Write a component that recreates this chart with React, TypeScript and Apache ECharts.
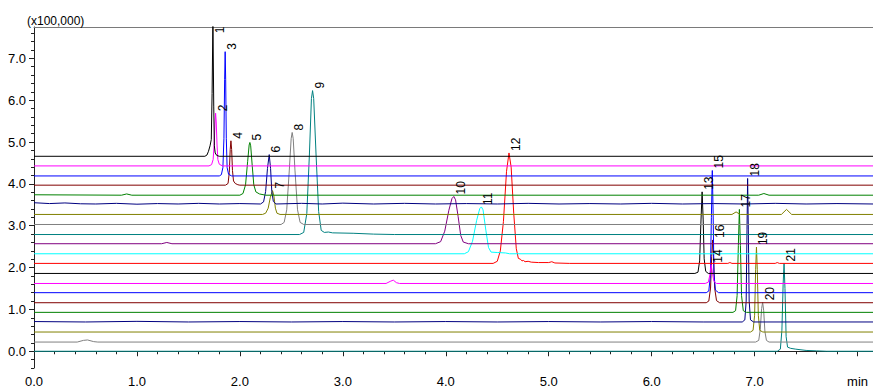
import React, { useEffect, useRef } from 'react';
import * as echarts from 'echarts';

const FONT = '"Liberation Sans", Arial, sans-serif';

// Axis ticks / labels
const xTickValues = [0, 1, 2, 3, 4, 5, 6, 7, 8];
const xTickLabels = ['0.0', '1.0', '2.0', '3.0', '4.0', '5.0', '6.0', '7.0', 'min'];
const xMinorTicks = [0, 0.2, 0.4, 0.6, 0.8, 1, 1.2, 1.4, 1.6, 1.8, 2, 2.2, 2.4, 2.6, 2.8, 3, 3.2, 3.4, 3.6, 3.8, 4, 4.2, 4.4, 4.6, 4.8, 5, 5.2, 5.4, 5.6, 5.8, 6, 6.2, 6.4, 6.6, 6.8, 7, 7.2, 7.4, 7.6, 7.8, 8];
const yTickValues = [0, 1, 2, 3, 4, 5, 6, 7];
const yTickLabels = ['0.0', '1.0', '2.0', '3.0', '4.0', '5.0', '6.0', '7.0'];
const yMinorTicks = [-0.4, -0.2, 0, 0.2, 0.4, 0.6, 0.8, 1, 1.2, 1.4, 1.6, 1.8, 2, 2.2, 2.4, 2.6, 2.8, 3, 3.2, 3.4, 3.6, 3.8, 4, 4.2, 4.4, 4.6, 4.8, 5, 5.2, 5.4, 5.6, 5.8, 6, 6.2, 6.4, 6.6, 6.8, 7, 7.2, 7.4, 7.6];
const unitLabel = '(x100,000)';

// Trace colours and baseline offsets (x100,000)
const colors = ['#000000', '#ff00ff', '#0000ff', '#800000', '#008000', '#000080', '#808000', '#808080', '#008080', '#800080', '#00ffff', '#ff0000', '#000000', '#ff00ff', '#0000ff', '#800000', '#008000', '#000080', '#808000', '#808080', '#008080'];
const baselines = [4.66, 4.43, 4.19, 3.97, 3.73, 3.52, 3.27, 3.03, 2.79, 2.57, 2.33, 2.10, 1.86, 1.62, 1.40, 1.16, 0.93, 0.70, 0.46, 0.22, 0.0];

// Signals [time (min), intensity above baseline (x100,000)]
const t1 = [[0, 0], [1.66, 0], [1.68, 0.03], [1.695, 0.12], [1.71, 0.25], [1.722, 0.4], [1.73, 1.5], [1.738, 3.3], [1.746, 1.2], [1.752, 0.25], [1.76, 0.08], [1.775, 0.02], [1.8, 0], [8.15, 0]];
const t2 = [[0, 0], [1.7, 0], [1.725, 0.03], [1.74, 0.15], [1.75, 0.5], [1.758, 1.0], [1.764, 1.26], [1.77, 1.05], [1.778, 0.5], [1.786, 0.15], [1.8, 0.04], [1.83, 0], [8.15, 0]];
const t3 = [[0, 0], [1.8, 0], [1.82, 0.03], [1.835, 0.2], [1.845, 0.9], [1.852, 2.3], [1.857, 2.97], [1.862, 2.3], [1.868, 0.9], [1.876, 0.2], [1.89, 0.04], [1.92, 0], [8.15, 0]];
const t4 = [[0, 0], [1.86, 0], [1.885, 0.04], [1.897, 0.3], [1.906, 0.85], [1.913, 1.06], [1.92, 0.85], [1.928, 0.35], [1.938, 0.1], [1.955, 0.04], [1.98, 0.01], [2.0, 0], [8.15, 0]];
const t5 = [[0, 0.01], [0.85, 0], [0.9, 0.03], [0.95, 0], [2.0, 0], [2.03, 0.04], [2.055, 0.25], [2.075, 0.8], [2.09, 1.2], [2.097, 1.26], [2.105, 1.18], [2.12, 0.7], [2.135, 0.25], [2.155, 0.08], [2.19, 0.03], [2.25, 0], [7.04, 0], [7.09, 0.04], [7.14, 0], [8.15, 0]];
const t6 = [[0, 0.03], [0.15, 0.01], [0.3, 0.025], [0.45, 0.005], [0.6, 0.0], [0.8, 0.015], [1.0, -0.005], [1.2, 0.01], [1.4, 0.0], [1.6, 0.015], [1.8, 0.0], [2.0, 0.01], [2.2, 0], [2.23, 0.05], [2.25, 0.3], [2.268, 0.85], [2.285, 1.18], [2.298, 0.85], [2.31, 0.3], [2.325, 0.06], [2.35, 0], [2.6, 0.015], [2.8, 0.0], [3.0, 0.02], [3.3, 0.0], [3.6, 0.015], [3.9, 0.0], [4.2, 0.01], [4.5, 0.0], [4.8, 0.015], [5.1, 0.0], [5.4, 0.01], [5.7, 0.0], [6.0, 0.015], [6.3, 0.0], [6.6, 0.01], [6.9, 0.0], [7.2, 0.015], [7.5, 0.0], [7.8, 0.01], [8.15, 0]];
const t7 = [[0, 0], [2.22, 0], [2.25, 0.03], [2.275, 0.15], [2.295, 0.4], [2.317, 0.57], [2.33, 0.45], [2.345, 0.15], [2.36, 0.03], [2.39, 0], [6.78, 0], [6.82, 0.06], [6.86, 0], [7.26, 0], [7.31, 0.12], [7.36, 0], [8.15, 0]];
const t8 = [[0, 0], [2.4, 0], [2.43, 0.05], [2.455, 0.35], [2.48, 1.3], [2.498, 2.05], [2.508, 2.2], [2.518, 2.05], [2.535, 1.3], [2.56, 0.35], [2.585, 0.05], [2.62, 0], [8.15, 0]];
const t9 = [[0, 0], [2.58, 0], [2.62, 0.05], [2.65, 0.5], [2.675, 1.9], [2.695, 3.25], [2.706, 3.44], [2.717, 3.25], [2.74, 1.9], [2.765, 0.55], [2.79, 0.1], [2.82, 0.05], [2.86, 0.06], [2.9, 0.04], [3.1, 0.03], [3.3, 0.01], [3.5, 0], [8.15, 0]];
const t10 = [[0, 0], [1.24, 0], [1.29, 0.03], [1.34, 0], [3.9, 0], [3.95, 0.05], [3.99, 0.3], [4.03, 0.8], [4.06, 1.08], [4.078, 1.13], [4.095, 1.05], [4.12, 0.65], [4.145, 0.2], [4.17, 0.04], [4.22, 0], [8.15, 0]];
const t11 = [[0, 0], [4.18, 0], [4.22, 0.05], [4.26, 0.3], [4.3, 0.8], [4.33, 1.08], [4.346, 1.12], [4.362, 1.05], [4.39, 0.55], [4.415, 0.15], [4.44, 0.04], [4.5, 0.03], [4.58, 0.02], [4.62, 0], [8.15, 0]];
const t12 = [[0, 0], [4.46, 0], [4.5, 0.05], [4.53, 0.3], [4.56, 1.0], [4.59, 2.2], [4.614, 2.64], [4.635, 2.3], [4.66, 1.2], [4.685, 0.35], [4.705, 0.12], [4.725, 0.1], [4.74, 0.06], [4.755, 0.07], [4.77, 0.04], [4.8, 0.05], [4.83, 0.03], [4.9, 0.02], [5.0, 0.02], [5.03, 0.04], [5.06, 0.01], [5.2, 0], [6.74, 0], [6.76, 0.02], [6.78, 0], [7.2, 0], [7.22, 0.02], [7.24, 0], [8.15, 0]];
const t13 = [[0, 0], [6.42, 0], [6.45, 0.03], [6.466, 0.3], [6.478, 1.2], [6.49, 1.95], [6.5, 1.3], [6.51, 0.35], [6.525, 0.05], [6.55, 0], [8.15, 0]];
const t14 = [[0, 0], [3.42, 0], [3.46, 0.05], [3.49, 0.08], [3.52, 0.02], [3.55, 0], [6.52, 0], [6.55, 0.03], [6.565, 0.2], [6.578, 0.45], [6.59, 0.25], [6.605, 0.05], [6.63, 0], [8.15, 0]];
const t15 = [[0, 0], [6.53, 0], [6.555, 0.04], [6.57, 0.4], [6.58, 1.8], [6.589, 2.92], [6.597, 1.9], [6.605, 0.45], [6.62, 0.06], [6.65, 0], [8.15, 0]];
const t16 = [[0, 0], [6.53, 0], [6.555, 0.04], [6.572, 0.35], [6.583, 1.1], [6.592, 1.5], [6.601, 1.1], [6.612, 0.35], [6.63, 0.05], [6.66, 0], [8.15, 0]];
const t17 = [[0, 0], [6.79, 0], [6.815, 0.04], [6.83, 0.4], [6.842, 1.6], [6.852, 2.46], [6.862, 1.6], [6.873, 0.4], [6.89, 0.04], [6.92, 0], [8.15, 0]];
const t18 = [[0, 0.01], [0.5, 0.0], [1.0, 0.015], [1.5, 0.0], [2.0, 0.01], [2.5, 0.0], [3.0, 0.01], [3.5, 0.0], [4.0, 0.01], [4.5, 0.0], [5.0, 0.01], [5.5, 0.0], [6.0, 0.01], [6.5, 0.0], [6.88, 0], [6.905, 0.05], [6.918, 0.5], [6.926, 2.2], [6.932, 3.43], [6.939, 2.2], [6.947, 0.5], [6.96, 0.05], [6.99, 0], [8.15, 0]];
const t19 = [[0, 0], [6.96, 0], [6.985, 0.04], [7.0, 0.4], [7.01, 1.5], [7.018, 2.03], [7.026, 1.5], [7.036, 0.4], [7.05, 0.04], [7.08, 0], [8.15, 0]];
const t20 = [[0, 0], [0.42, 0], [0.48, 0.04], [0.52, 0.05], [0.58, 0.01], [0.62, 0], [7.01, 0], [7.04, 0.04], [7.055, 0.3], [7.068, 0.8], [7.078, 0.95], [7.088, 0.75], [7.1, 0.25], [7.115, 0.04], [7.14, 0], [8.15, 0]];
const t21 = [[0, 0], [7.22, 0], [7.25, 0.05], [7.265, 0.5], [7.277, 1.6], [7.286, 2.1], [7.295, 1.5], [7.306, 0.35], [7.32, 0.1], [7.35, 0.07], [7.4, 0.05], [7.5, 0.02], [7.6, 0.01], [7.7, 0], [8.15, 0]];
const traces = [t1, t2, t3, t4, t5, t6, t7, t8, t9, t10, t11, t12, t13, t14, t15, t16, t17, t18, t19, t20, t21];

// Peak labels and their anchor points (time, absolute value at the peak top)
const peakLabels = ['1', '2', '3', '4', '5', '6', '7', '8', '9', '10', '11', '12', '13', '14', '15', '16', '17', '18', '19', '20', '21'];
const peakAnchors = [[1.738, 7.55], [1.764, 5.69], [1.857, 7.16], [1.913, 5.03], [2.097, 4.99], [2.285, 4.70], [2.317, 3.84], [2.508, 5.23], [2.706, 6.23], [4.078, 3.70], [4.346, 3.45], [4.614, 4.74], [6.49, 3.81], [6.578, 2.07], [6.589, 4.32], [6.592, 2.66], [6.852, 3.39], [6.932, 4.13], [7.018, 2.49], [7.078, 1.17], [7.286, 2.10]];

const X_MAX = 8.15;
const Y_MIN = -0.4;
const Y_MAX = 7.75;

export default function App() {
  const ref = useRef<HTMLDivElement>(null);
  useEffect(() => {
    if (!ref.current) return;
    const chart = echarts.init(ref.current, undefined, { renderer: 'svg' });
    const axisColor = '#222222';
    const series = traces.map((tr, i) => ({
      type: 'line',
      name: peakLabels[i],
      data: tr.map(([t, v]) => [t, v + baselines[i]]),
      showSymbol: false,
      symbol: 'none',
      silent: true,
      z: 40 - i,
      lineStyle: { color: colors[i], width: 1 },
      itemStyle: { color: colors[i] },
    }));
    chart.setOption({
      animation: false,
      backgroundColor: '#ffffff',
      grid: { left: 34, right: 0, top: 27, bottom: 21, containLabel: false },
      xAxis: [
        {
          type: 'value', min: 0, max: X_MAX, position: 'bottom',
          axisLine: { show: true, lineStyle: { color: axisColor, width: 1 } },
          axisTick: { show: true, length: 5, customValues: xTickValues, lineStyle: { color: axisColor } },
          axisLabel: {
            show: true, customValues: xTickValues, margin: 7, color: '#000', fontSize: 13, fontFamily: FONT,
            formatter: (v: number) => { const k = xTickValues.indexOf(Math.round(v * 100) / 100); return k >= 0 ? xTickLabels[k] : ''; },
          },
          splitLine: { show: false },
        },
        {
          type: 'value', min: 0, max: X_MAX, position: 'bottom',
          axisLine: { show: false },
          axisTick: { show: true, length: 3, customValues: xMinorTicks, lineStyle: { color: axisColor } },
          axisLabel: { show: false },
          splitLine: { show: false },
        },
        {
          type: 'value', min: 0, max: X_MAX, position: 'top',
          axisLine: { show: true, lineStyle: { color: '#7a7a7a', width: 1 } },
          axisTick: { show: false },
          axisLabel: { show: false },
          splitLine: { show: false },
        },
      ],
      yAxis: [
        {
          type: 'value', min: Y_MIN, max: Y_MAX, position: 'left',
          axisLine: { show: true, lineStyle: { color: axisColor, width: 1 } },
          axisTick: { show: true, length: 5, customValues: yTickValues, lineStyle: { color: axisColor } },
          axisLabel: {
            show: true, customValues: yTickValues, margin: 8, color: '#000', fontSize: 13, fontFamily: FONT,
            formatter: (v: number) => { const k = yTickValues.indexOf(Math.round(v * 100) / 100); return k >= 0 ? yTickLabels[k] : ''; },
          },
          splitLine: { show: false },
        },
        {
          type: 'value', min: Y_MIN, max: Y_MAX, position: 'left',
          axisLine: { show: false },
          axisTick: { show: true, length: 3, customValues: yMinorTicks, lineStyle: { color: axisColor } },
          axisLabel: { show: false },
          splitLine: { show: false },
        },
      ],
      series,
    });

    const graphics: any[] = peakAnchors.map((a, i) => {
      const p = chart.convertToPixel({ xAxisIndex: 0, yAxisIndex: 0 }, a) as number[];
      return {
        type: 'text', x: p[0] + 7, y: p[1] - 2, rotation: Math.PI / 2, z: 100, silent: true,
        style: { text: peakLabels[i], fontSize: 12, fontFamily: FONT, fill: '#000', align: 'left', verticalAlign: 'middle' },
      };
    });
    graphics.push({
      type: 'text', x: 27, y: 20.5, z: 100, silent: true,
      style: { text: unitLabel, fontSize: 12, fontFamily: FONT, fill: '#000', align: 'left', verticalAlign: 'middle' },
    });
    chart.setOption({ graphic: graphics });

    return () => chart.dispose();
  }, []);
  return <div ref={ref} style={{ position: 'fixed', left: 0, top: 0, width: 873, height: 389 }} />;
}
